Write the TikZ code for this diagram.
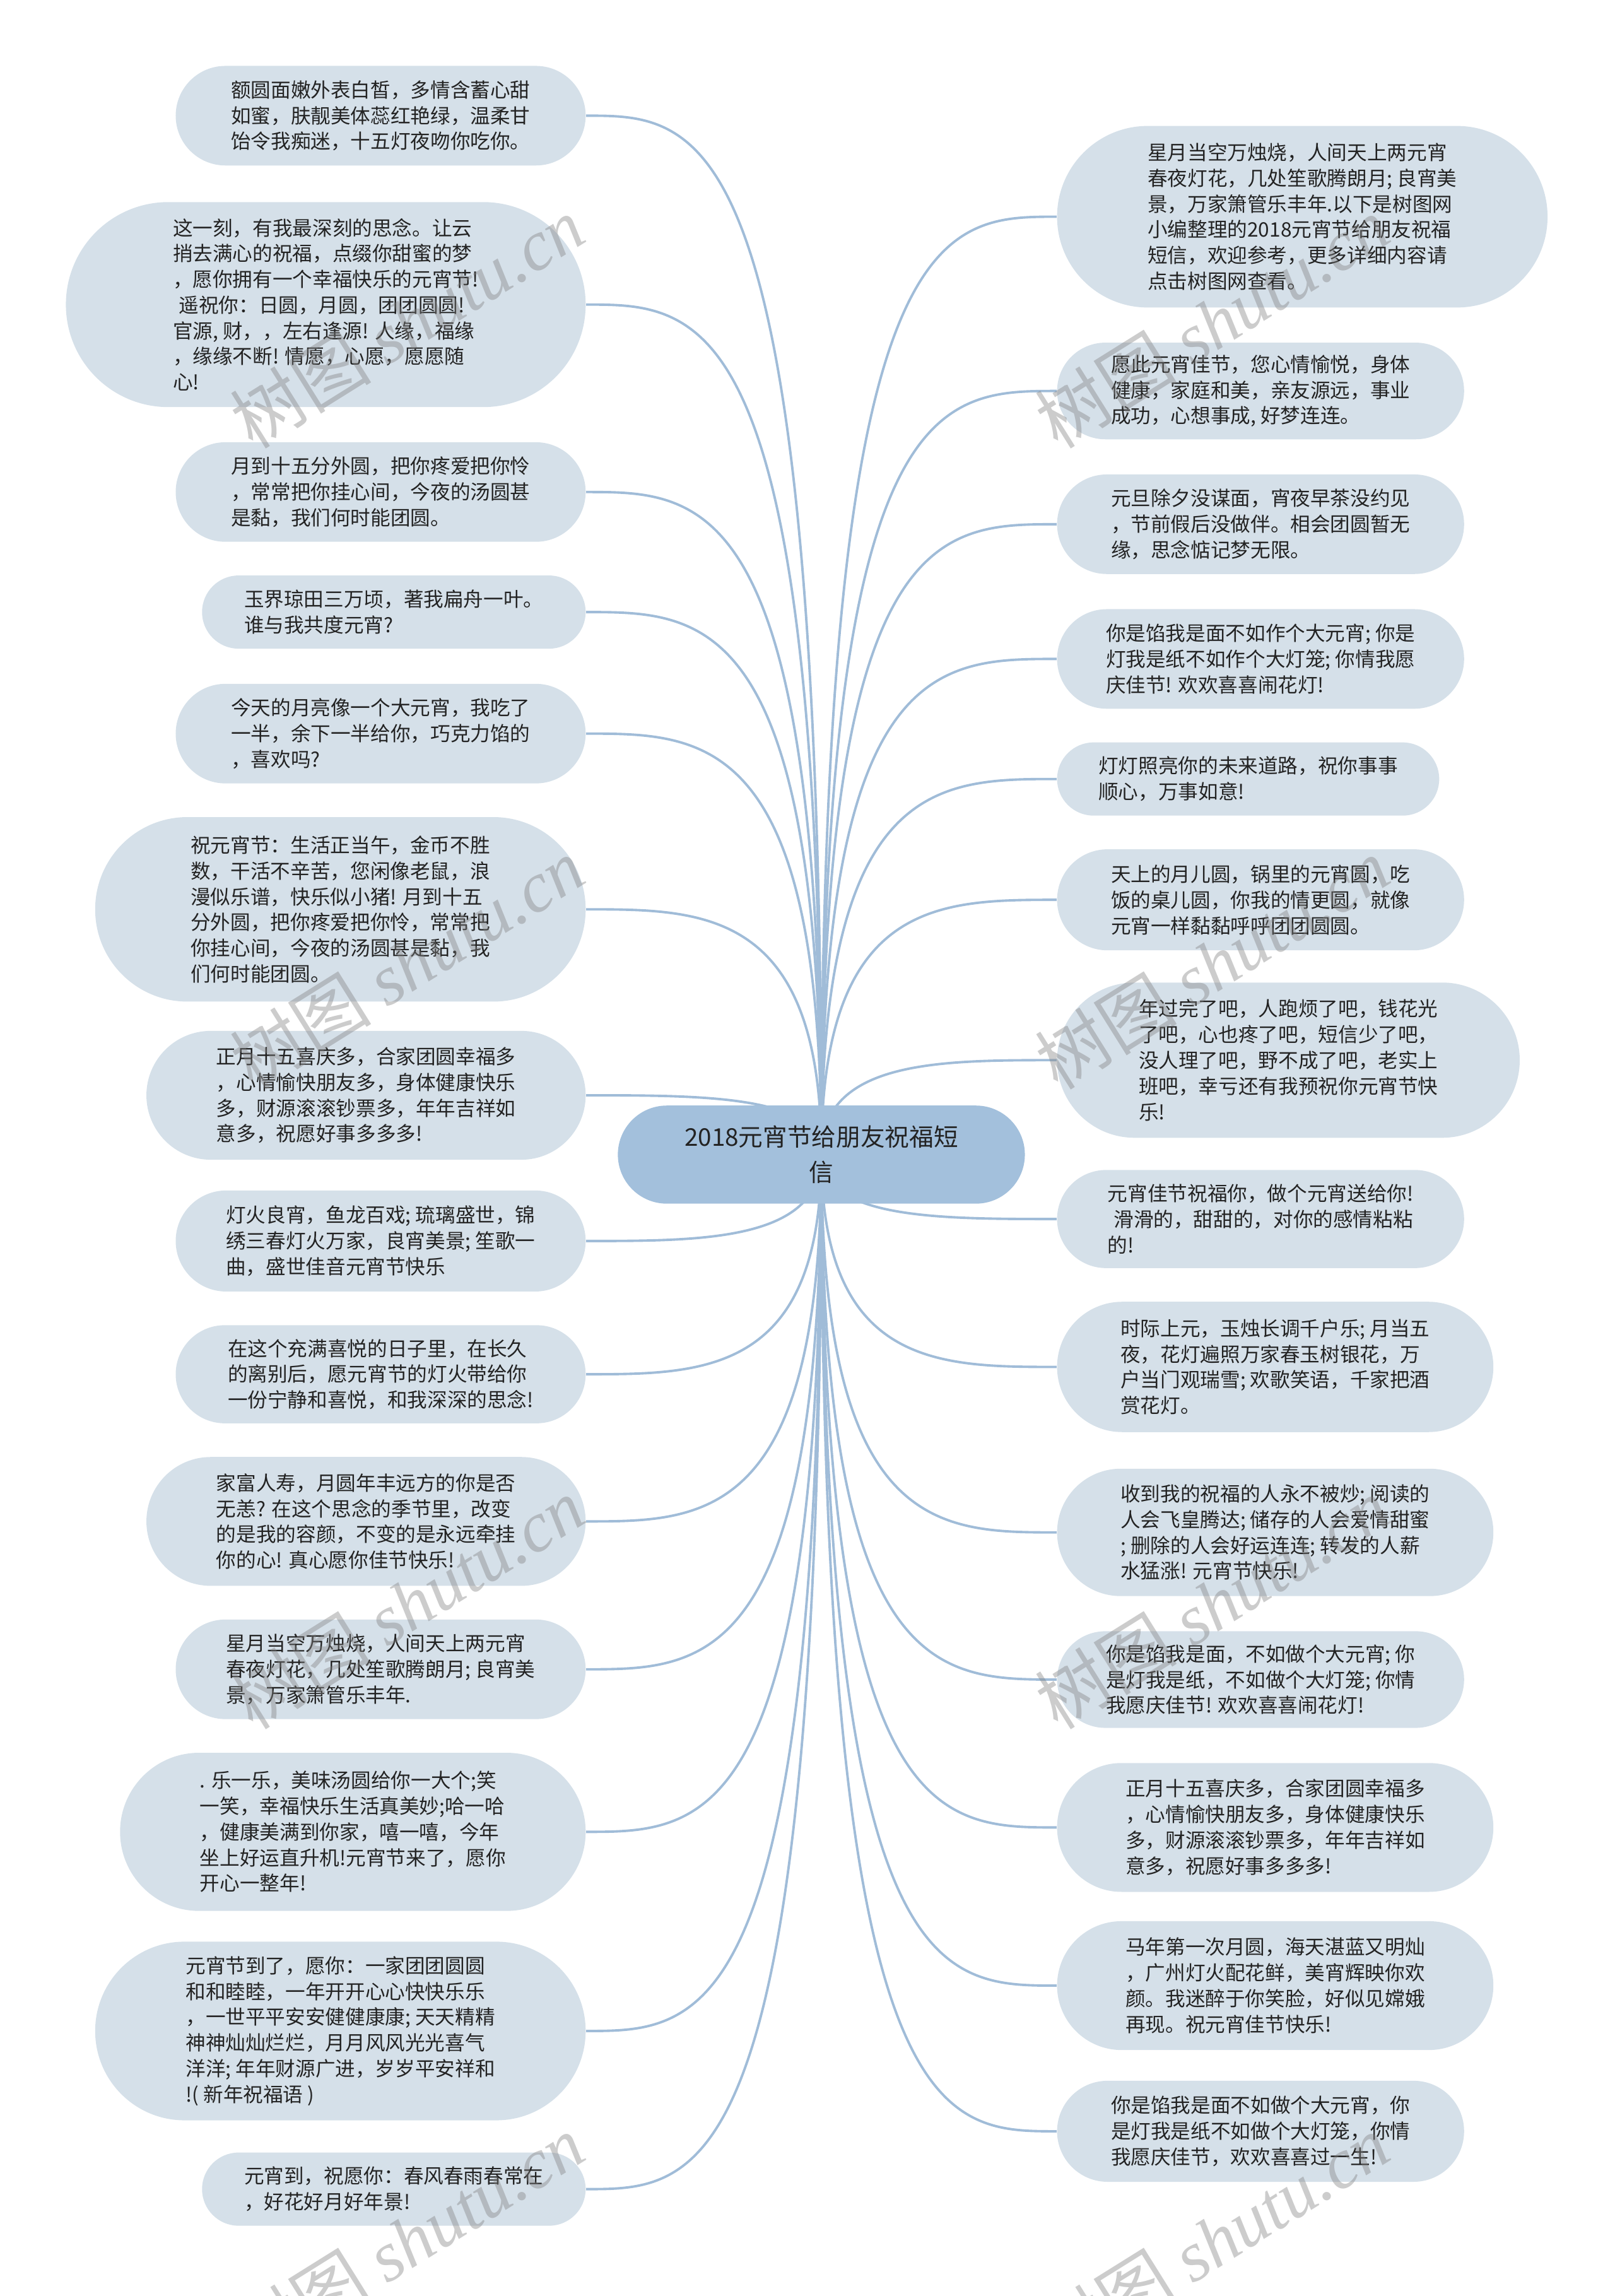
\documentclass[tikz,border=0pt]{standalone}
\usepackage{fontspec}
\usepackage{xcolor}
\usepackage{tikz}
\usetikzlibrary{positioning, backgrounds, calc}
\setmainfont{Noto Sans CJK SC}
\newfontfamily\markserif{Liberation Serif}

\definecolor{leafbg}{RGB}{213,224,233}
\definecolor{hubbg}{RGB}{163,192,220}
\definecolor{linkc}{RGB}{160,188,216}
\definecolor{ink}{RGB}{35,35,35}

\tikzset{
  leaf/.style={fill=leafbg, text=ink, align=left, inner sep=0pt,
    font=\fontsize{9pt}{11.6pt}\selectfont},
  hubnode/.style={fill=hubbg, text=ink, align=center, inner sep=0pt,
    font=\fontsize{11pt}{16pt}\selectfont},
  link/.style={draw=linkc, line width=1.1pt},
  wmark/.style={text=gray, text opacity=0.4, rotate=32,
    font=\fontsize{32pt}{36pt}\selectfont}
}

\begin{document}
\begin{tikzpicture}[x=0.2321mm, y=-0.2321mm]
        \useasboundingbox (0,0) rectangle (1103,1568);

        \node[hubnode, minimum width=278*0.2321mm, minimum height=67*0.2321mm,
          rounded corners=67*0.116mm] (hub) at (561,788.5) {2018元宵节给朋友祝福短\\信};

        % Left side
        \foreach \i/\x/\y/\w/\h/\txt in {
          1/260/79/280/68/{额圆面嫩外表白皙，多情含蓄心甜\\如蜜，肤靓美体蕊红艳绿，温柔甘\\饴令我痴迷，十五灯夜吻你吃你。},
          2/222.5/208/355/140/{这一刻，有我最深刻的思念。让云\\捎去满心的祝福，点缀你甜蜜的梦\\，愿你拥有一个幸福快乐的元宵节!\\\hspace*{0.3em}遥祝你：日圆，月圆，团团圆圆!\\官源, 财，，左右逢源! 人缘，福缘\\，缘缘不断! 情愿，心愿，愿愿随\\心!},
          3/260/336/280/68/{月到十五分外圆，把你疼爱把你怜\\，常常把你挂心间，今夜的汤圆甚\\是黏，我们何时能团圆。},
          4/269/418/262/50/{玉界琼田三万顷，著我扁舟一叶。\\谁与我共度元宵?},
          5/260/501/280/68/{今天的月亮像一个大元宵，我吃了\\一半，余下一半给你，巧克力馅的\\，喜欢吗?},
          6/232.5/621/335/126/{祝元宵节：生活正当午，金币不胜\\数，干活不辛苦，您闲像老鼠，浪\\漫似乐谱，快乐似小猪! 月到十五\\分外圆，把你疼爱把你怜，常常把\\你挂心间，今夜的汤圆甚是黏，我\\们何时能团圆。},
          7/250/748/300/88/{正月十五喜庆多，合家团圆幸福多\\，心情愉快朋友多，身体健康快乐\\多，财源滚滚钞票多，年年吉祥如\\意多，祝愿好事多多多!},
          8/260/847.5/280/69/{灯火良宵，鱼龙百戏; 琉璃盛世，锦\\绣三春灯火万家，良宵美景; 笙歌一\\曲，盛世佳音元宵节快乐},
          9/260/938.5/280/67/{在这个充满喜悦的日子里，在长久\\的离别后，愿元宵节的灯火带给你\\一份宁静和喜悦，和我深深的思念!},
          10/250/1039/300/88/{家富人寿，月圆年丰远方的你是否\\无恙? 在这个思念的季节里，改变\\的是我的容颜，不变的是永远牵挂\\你的心! 真心愿你佳节快乐!},
          11/260/1140/280/68/{星月当空万烛烧，人间天上两元宵\\春夜灯花，几处笙歌腾朗月; 良宵美\\景，万家箫管乐丰年.},
          12/241/1251/318/108/{. 乐一乐，美味汤圆给你一大个;笑\\一笑，幸福快乐生活真美妙;哈一哈\\，健康美满到你家，嘻一嘻，今年\\坐上好运直升机!元宵节来了，愿你\\开心一整年!},
          13/232.5/1387/335/122/{元宵节到了，愿你：一家团团圆圆\\和和睦睦，一年开开心心快快乐乐\\，一世平平安安健健康康; 天天精精\\神神灿灿烂烂，月月风风光光喜气\\洋洋; 年年财源广进，岁岁平安祥和\\!( 新年祝福语 )},
          14/269/1495/262/50/{元宵到，祝愿你：春风春雨春常在\\，好花好月好年景!}} {
          \node[leaf, minimum width=\w*0.2321mm, minimum height=\h*0.2321mm,
            rounded corners=\h*0.116mm] (l\i) at (\x,\y) {\txt};
        }

        % Right side
        \foreach \i/\x/\y/\w/\h/\txt in {
          1/889.5/148/335/124/{星月当空万烛烧，人间天上两元宵\\春夜灯花，几处笙歌腾朗月; 良宵美\\景，万家箫管乐丰年.以下是树图网\\小编整理的2018元宵节给朋友祝福\\短信，欢迎参考，更多详细内容请\\点击树图网查看。},
          2/861/267/278/66/{愿此元宵佳节，您心情愉悦，身体\\健康，家庭和美，亲友源远，事业\\成功，心想事成, 好梦连连。},
          3/861/358/278/68/{元旦除夕没谋面，宵夜早茶没约见\\，节前假后没做伴。相会团圆暂无\\缘，思念惦记梦无限。},
          4/861/450/278/68/{你是馅我是面不如作个大元宵; 你是\\灯我是纸不如作个大灯笼; 你情我愿\\庆佳节! 欢欢喜喜闹花灯!},
          5/852.5/532/261/50/{灯灯照亮你的未来道路，祝你事事\\顺心，万事如意!},
          6/861/614.5/278/69/{天上的月儿圆，锅里的元宵圆，吃\\饭的桌儿圆，你我的情更圆，就像\\元宵一样黏黏呼呼团团圆圆。},
          7/880/724/316/106/{年过完了吧，人跑烦了吧，钱花光\\了吧，心也疼了吧，短信少了吧，\\没人理了吧，野不成了吧，老实上\\班吧，幸亏还有我预祝你元宵节快\\乐!},
          8/861/832.5/278/67/{元宵佳节祝福你，做个元宵送给你!\\\hspace*{0.3em}滑滑的，甜甜的，对你的感情粘粘\\的!},
          9/871/933.5/298/89/{时际上元，玉烛长调千户乐; 月当五\\夜，花灯遍照万家春玉树银花，万\\户当门观瑞雪; 欢歌笑语，千家把酒\\赏花灯。},
          10/871/1046.5/298/87/{收到我的祝福的人永不被炒; 阅读的\\人会飞皇腾达; 储存的人会爱情甜蜜\\; 删除的人会好运连连; 转发的人薪\\水猛涨! 元宵节快乐!},
          11/861/1147/278/66/{你是馅我是面，不如做个大元宵; 你\\是灯我是纸，不如做个大灯笼; 你情\\我愿庆佳节! 欢欢喜喜闹花灯!},
          12/871/1248/298/88/{正月十五喜庆多，合家团圆幸福多\\，心情愉快朋友多，身体健康快乐\\多，财源滚滚钞票多，年年吉祥如\\意多，祝愿好事多多多!},
          13/871/1356/298/88/{马年第一次月圆，海天湛蓝又明灿\\，广州灯火配花鲜，美宵辉映你欢\\颜。我迷醉于你笑脸，好似见嫦娥\\再现。祝元宵佳节快乐!},
          14/861/1455.5/278/69/{你是馅我是面不如做个大元宵，你\\是灯我是纸不如做个大灯笼，你情\\我愿庆佳节，欢欢喜喜过一生!}} {
          \node[leaf, minimum width=\w*0.2321mm, minimum height=\h*0.2321mm,
            rounded corners=\h*0.116mm] (r\i) at (\x,\y) {\txt};
        }

        % Links
        \begin{scope}[on background layer]
          \foreach \i in {1,...,14} {
            \draw[link] (hub.center) .. controls (hub |- l\i.east) and ($(l\i.east)!0.5!(hub |- l\i.east)$) .. (l\i.east);
            \draw[link] (hub.center) .. controls (hub |- r\i.west) and ($(r\i.west)!0.5!(hub |- r\i.west)$) .. (r\i.west);
          }
        \end{scope}

        % Watermark
        \foreach \x/\y [count=\k] in {278/220, 828/220, 278/658, 828/658, 278/1095, 828/1095, 278/1530, 828/1530} {
          \node[wmark] (wm\k) at (\x,\y) {树图 {\markserif\itshape shutu.cn}};
        }
      \end{tikzpicture}
\end{document}
